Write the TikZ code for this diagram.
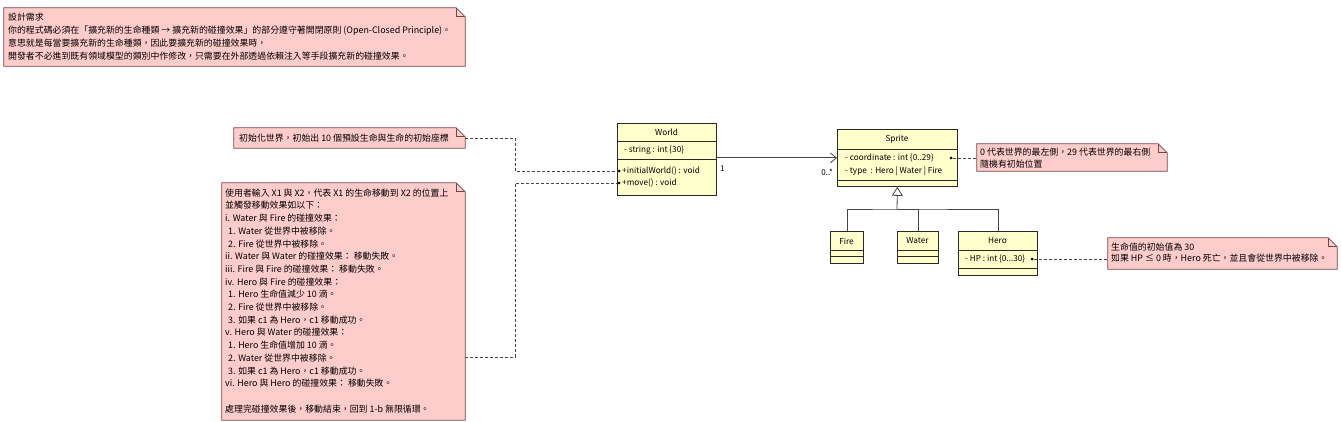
\documentclass[tikz,border=0pt]{standalone}
\usepackage{fontspec}
\setmainfont{Noto Sans CJK TC}
\usetikzlibrary{arrows.meta,calc,fit}
\definecolor{notefill}{RGB}{255,204,204}
\definecolor{noteline}{RGB}{120,70,70}
\definecolor{clsfill}{RGB}{255,255,204}
\definecolor{clsline}{RGB}{40,40,40}
\definecolor{linkc}{RGB}{70,70,70}
\newcommand\notedraw[1]{%
  \filldraw[fill=notefill, draw=noteline, line width=0.8pt] (#1.north west) -- ([xshift=-9pt]#1.north east) -- ([yshift=-9pt]#1.north east) -- (#1.south east) -- (#1.south west) -- cycle;
  \draw[noteline, line width=0.7pt] ([xshift=-9pt]#1.north east) |- ([yshift=-9pt]#1.north east);}
\newcommand\compline[2]{\draw[clsline, line width=0.8pt] ([yshift=-#2pt]#1.north west) -- ([yshift=-#2pt]#1.north east);}
\begin{document}
\begin{tikzpicture}[x=1pt,y=-1pt,
  notearea/.style={inner sep=0pt, draw=none},
  notetext/.style={anchor=north west, align=left, inner sep=0pt, font=\fontsize{8.9}{12.7}\selectfont},
  cls/.style={draw=clsline, fill=clsfill, line width=0.8pt, anchor=north west, inner sep=0pt},
  ctitle/.style={font=\fontsize{8.2}{10}\selectfont, inner sep=0pt},
  cattr/.style={font=\fontsize{8.2}{10}\selectfont, inner sep=0pt, anchor=west},
  mult/.style={font=\fontsize{8}{10}\selectfont, inner sep=0pt},
  dep/.style={draw=linkc, dashed, dash pattern=on 3pt off 2pt, line width=0.7pt},
  assoc/.style={draw=linkc, line width=0.8pt},
  enddot/.style={fill=black, circle, inner sep=0pt, minimum size=3pt}
]
\fill[white] (0,0) rectangle (1341,422);
\useasboundingbox (0,0) rectangle (1341,422);

% ---------- notes ----------
\node[notearea, fit={(4,8) (465,66)}] (req) {};
\notedraw{req}
\node[notetext, font=\fontsize{8.9}{13}\selectfont] (reqtext) at (8,12.5) {設計需求\\
你的程式碼必須在「擴充新的生命種類 → 擴充新的碰撞效果」的部分遵守著開閉原則 (Open-Closed Principle)。\\
意思就是每當要擴充新的生命種類，因此要擴充新的碰撞效果時，\\
開發者不必進到既有領域模型的類別中作修改，只需要在外部透過依賴注入等手段擴充新的碰撞效果。};

\node[notearea, fit={(234,128) (465,148)}] (initn) {};
\notedraw{initn}
\node[notetext, anchor=west] (inittext) at (239,138) {初始化世界，初始出 10 個預設生命與生命的初始座標};

\node[notearea, fit={(222,183) (465,420)}] (moven) {};
\notedraw{moven}
\node[notetext] (movetext) at (225,188.5) {使用者輸入 X1 與 X2，代表 X1 的生命移動到 X2 的位置上\\
並觸發移動效果如以下：\\
i. Water 與 Fire 的碰撞效果：\\
\hspace*{3pt}1. Water 從世界中被移除。\\
\hspace*{3pt}2. Fire 從世界中被移除。\\
ii. Water 與 Water 的碰撞效果： 移動失敗。\\
iii. Fire 與 Fire 的碰撞效果： 移動失敗。\\
iv. Hero 與 Fire 的碰撞效果：\\
\hspace*{3pt}1. Hero 生命值減少 10 滴。\\
\hspace*{3pt}2. Fire 從世界中被移除。\\
\hspace*{3pt}3. 如果 c1 為 Hero，c1 移動成功。\\
v. Hero 與 Water 的碰撞效果：\\
\hspace*{3pt}1. Hero 生命值增加 10 滴。\\
\hspace*{3pt}2. Water 從世界中被移除。\\
\hspace*{3pt}3. 如果 c1 為 Hero，c1 移動成功。\\
vi. Hero 與 Hero 的碰撞效果： 移動失敗。\\
\mbox{}\\
處理完碰撞效果後，移動結束，回到 1-b 無限循環。};

\node[notearea, fit={(977,144) (1167,171)}] (spn) {};
\notedraw{spn}
\node[notetext, font=\fontsize{8.9}{12}\selectfont] (spntext) at (980,147.5) {0 代表世界的最左側，29 代表世界的最右側\\
隨機有初始位置};

\node[notearea, fit={(1108,238) (1337,269)}] (hen) {};
\notedraw{hen}
\node[notetext, font=\fontsize{8.9}{11.5}\selectfont] (hentext) at (1111,242.5) {生命值的初始值為 30\\
如果 HP ≤ 0 時，Hero 死亡，並且會從世界中被移除。};

% ---------- classes ----------
\node[cls, minimum width=99pt, minimum height=72pt] (world) at (617,123) {};
\compline{world}{18}
\compline{world}{36}
\node[ctitle] (worldname) at (666.5,132) {World};
\node[cattr] (worldattr) at (624,150.5) {- string : int \{30\}};
\node[cattr] (worldop1) at (622,171) {+initialWorld() : void};
\node[cattr] (worldop2) at (622,183) {+move() : void};

\node[cls, minimum width=120pt, minimum height=57pt] (sprite) at (837,129) {};
\compline{sprite}{20}
\compline{sprite}{51}
\node[ctitle] (spritename) at (897,139) {Sprite};
\node[cattr] (spriteattr1) at (845,158) {- coordinate : int \{0..29\}};
\node[cattr] (spriteattr2) at (845,171) {- type\ \ : Hero | Water | Fire};

\node[cls, minimum width=33pt, minimum height=32pt] (fire) at (830,231) {};
\compline{fire}{19}
\compline{fire}{25}
\node[ctitle] (firename) at (846.5,241) {Fire};

\node[cls, minimum width=41pt, minimum height=32pt] (water) at (897,231) {};
\compline{water}{19}
\compline{water}{25}
\node[ctitle] (watername) at (917.5,241) {Water};

\node[cls, minimum width=79pt, minimum height=44pt] (hero) at (958,231) {};
\compline{hero}{19}
\compline{hero}{37}
\node[ctitle] (heroname) at (997.5,241) {Hero};
\node[cattr] (heroattr) at (965,259) {- HP : int \{0...30\}};

% ---------- connectors ----------
\draw[assoc, -{Straight Barb[length=6pt,width=10pt]}] (world.east |- sprite.west) -- (sprite.west);
\node[mult, anchor=west] (m1) at (720,169) {1};
\node[mult, anchor=east] (m2) at (833,172) {0..*};

\coordinate (gj) at (897,209);
\draw[assoc] (fire.north) |- (gj) -| (hero.north);
\draw[assoc] (water.north) |- (gj);
\draw[assoc, -{Triangle[open, length=9pt, width=11pt]}] (gj) -- (sprite.south);

\node[enddot] (dInit) at (619,171) {};
\node[enddot] (dMove) at (619,183) {};
\node[enddot] (dCoord) at (951,158) {};
\node[enddot] (dHP) at (1032,259) {};

\draw[dep] (initn.east) -- ++(50,0) |- (dInit);
\draw[dep] ($(moven.south east)+(0,-63)$) -- ++(50,0) |- (dMove);
\draw[dep] (dCoord) -- (spn.west |- dCoord);
\draw[dep] (dHP) -- (hen.west |- dHP);
\end{tikzpicture}
\end{document}
